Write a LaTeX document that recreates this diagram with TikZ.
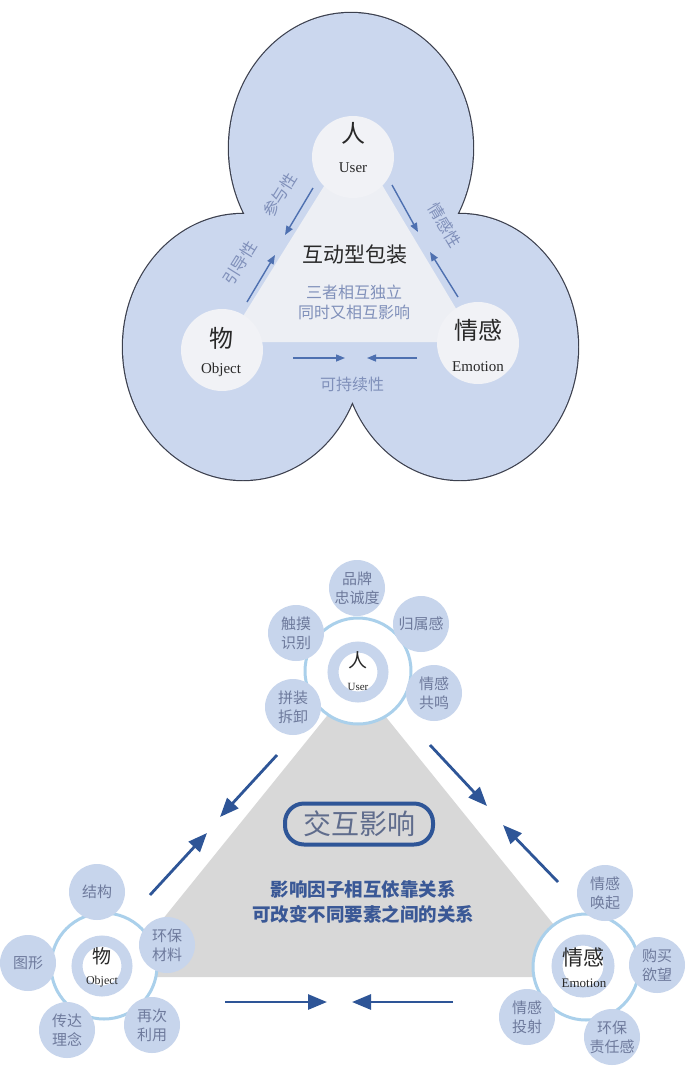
\documentclass[tikz,border=0pt]{standalone}
\usepackage{fontspec}
\setmainfont{Liberation Serif}
\newfontfamily\cjk{Noto Sans CJK SC}
\usetikzlibrary{arrows.meta}
\definecolor{lobe}{RGB}{203,215,238}
\definecolor{lobeline}{RGB}{60,64,78}
\definecolor{paletri}{RGB}{237,239,244}
\definecolor{palecirc}{RGB}{241,242,246}
\definecolor{arrowA}{RGB}{78,112,176}
\definecolor{labelA}{RGB}{128,144,186}
\definecolor{ink}{RGB}{40,40,40}
\definecolor{grayT}{RGB}{216,216,216}
\definecolor{navy}{RGB}{46,85,151}
\definecolor{sat}{RGB}{199,213,236}
\definecolor{sattext}{RGB}{110,122,156}
\definecolor{ringB}{RGB}{170,208,235}
\definecolor{pilltext}{RGB}{95,108,140}
\definecolor{boldtext}{RGB}{58,88,150}
\tikzset{
  topcirc/.style={circle, fill=palecirc, minimum size=82pt, inner sep=0pt},
  sarrow/.style={draw=arrowA, line width=1.4pt, -{Triangle[length=9pt,width=7pt]}},
  barrow/.style={draw=navy, line width=2.8pt, -{Triangle[length=19pt,width=15pt]}},
  lbl/.style={font=\cjk\fontsize{16}{20}\selectfont, text=labelA, align=center, inner sep=0pt},
  bigzh/.style={font=\cjk\fontsize{24}{28}\selectfont, text=ink, inner sep=0pt},
  en/.style={font=\fontsize{15}{18}\selectfont, text=ink, inner sep=0pt},
  satnode/.style={circle, fill=sat, minimum size=56pt, inner sep=0pt, font=\cjk\fontsize{15}{19}\selectfont, text=sattext, align=center},
  ringnode/.style={circle, draw=ringB, line width=3pt, fill=white, minimum size=106pt, inner sep=0pt},
  corenode/.style={circle, draw=sat, fill=white, line width=11pt, minimum size=50pt, inner sep=0pt},
  corezh/.style={font=\cjk\fontsize{19}{22}\selectfont, text=ink, inner sep=0pt},
  coreen/.style={font=\fontsize{12}{14}\selectfont, text=ink, inner sep=0pt}
}
\begin{document}
\begin{tikzpicture}[x=1pt,y=-1pt]
\useasboundingbox[fill=white] (0,0) rectangle (692,1074);
% ---------- top diagram: three lobes ----------
\draw[lobeline, line width=2.4pt]
  (351,148) ellipse [x radius=122pt, y radius=135pt]
  (243,347) ellipse [x radius=120pt, y radius=133pt]
  (460,347) ellipse [x radius=118pt, y radius=133pt];
\fill[lobe]
  (351,148) ellipse [x radius=122pt, y radius=135pt]
  (243,347) ellipse [x radius=120pt, y radius=133pt]
  (460,347) ellipse [x radius=118pt, y radius=133pt];
\fill[paletri] (354,138) -- (227,342) -- (476,342) -- cycle;
\node[topcirc] (user) at (353,157) {};
\node[topcirc] (object) at (222,350) {};
\node[topcirc] (emotion) at (478,343) {};
\node[bigzh] (userzh) at (353,133) {人};
\node[en] (useren) at (353,168) {User};
\node[bigzh] (objzh) at (221,338) {物};
\node[en] (objen) at (221,370) {Object};
\node[bigzh] (emozh) at (478,330) {情感};
\node[en] (emoen) at (478,367) {Emotion};
\node[font=\cjk\fontsize{21}{25}\selectfont, text=ink, inner sep=0pt] (title) at (355,255) {互动型包装};
\node[lbl] (sub) at (354,302) {三者相互独立\\同时又相互影响};
\node[lbl, rotate=58] (canyu) at (280,195) {参与性};
\node[lbl, rotate=58] (yindao) at (240,263) {引导性};
\node[lbl, rotate=-59] (qinggan) at (445,225) {情感性};
\node[lbl] (kechixu) at (352,384) {可持续性};
\coordinate (a1s) at (313,188); \coordinate (a1e) at (285,235);
\coordinate (a2s) at (247,302); \coordinate (a2e) at (275,255);
\coordinate (a3s) at (392,185); \coordinate (a3e) at (418,232);
\coordinate (a4s) at (458,297); \coordinate (a4e) at (430,252);
\coordinate (a5s) at (293,358); \coordinate (a5e) at (345,358);
\coordinate (a6s) at (417,358); \coordinate (a6e) at (367,358);
\draw[sarrow] (a1s) -- (a1e);
\draw[sarrow] (a2s) -- (a2e);
\draw[sarrow] (a3s) -- (a3e);
\draw[sarrow] (a4s) -- (a4e);
\draw[sarrow] (a5s) -- (a5e);
\draw[sarrow] (a6s) -- (a6e);
% ---------- bottom diagram ----------
\fill[grayT] (356,680) -- (116,977) -- (596,977) -- cycle;
\node[draw=navy, line width=4pt, rounded corners=19pt, minimum width=148pt, minimum height=41pt, inner sep=0pt,
  font=\cjk\fontsize{28}{32}\selectfont, text=pilltext] (pill) at (359,824) {交互影响};
\node[font=\cjk\bfseries\fontsize{18.5}{25}\selectfont, text=boldtext, align=center, inner sep=0pt] (desc) at (363,902)
  {影响因子相互依靠关系\\可改变不同要素之间的关系};
\coordinate (b1s) at (277,755); \coordinate (b1e) at (220,817);
\coordinate (b2s) at (150,895); \coordinate (b2e) at (207,833);
\coordinate (b3s) at (430,745); \coordinate (b3e) at (487,806);
\coordinate (b4s) at (558,882); \coordinate (b4e) at (503,825);
\coordinate (b5s) at (225,1002); \coordinate (b5e) at (327,1002);
\coordinate (b6s) at (453,1002); \coordinate (b6e) at (352,1002);
\draw[barrow] (b1s) -- (b1e);
\draw[barrow] (b2s) -- (b2e);
\draw[barrow] (b3s) -- (b3e);
\draw[barrow] (b4s) -- (b4e);
\draw[barrow] (b5s) -- (b5e);
\draw[barrow] (b6s) -- (b6e);
% user cluster
\node[ringnode] (uring) at (358,671) {};
\node[satnode] (u1) at (357,588) {品牌\\忠诚度};
\node[satnode] (u2) at (421,624) {归属感};
\node[satnode] (u3) at (434,693) {情感\\共鸣};
\node[satnode] (u4) at (293,707) {拼装\\拆卸};
\node[satnode] (u5) at (296,633) {触摸\\识别};
\node[corenode] (ucore) at (358,672) {};
\node[corezh] (ucorezh) at (358,660) {人};
\node[coreen, font=\fontsize{11}{13}\selectfont] (ucoreen) at (358,687) {User};
% object cluster
\node[ringnode] (oring) at (104,966) {};
\node[satnode] (o1) at (97,892) {结构};
\node[satnode] (o2) at (167,945) {环保\\材料};
\node[satnode] (o3) at (152,1025) {再次\\利用};
\node[satnode] (o4) at (67,1030) {传达\\理念};
\node[satnode] (o5) at (28,963) {图形};
\node[corenode] (ocore) at (102,966) {};
\node[corezh] (ocorezh) at (102,956) {物};
\node[coreen] (ocoreen) at (102,982) {Object};
% emotion cluster
\node[ringnode] (ering) at (586,967) {};
\node[satnode] (e1) at (605,893) {情感\\唤起};
\node[satnode] (e2) at (657,965) {购买\\欲望};
\node[satnode] (e3) at (612,1037) {环保\\责任感};
\node[satnode] (e4) at (527,1017) {情感\\投射};
\node[corenode, minimum size=52pt] (ecore) at (583,966) {};
\node[corezh, font=\cjk\fontsize{21}{24}\selectfont] (ecorezh) at (583,957) {情感};
\node[coreen, font=\fontsize{13}{15}\selectfont] (ecoreen) at (584,983) {Emotion};
\end{tikzpicture}
\end{document}
